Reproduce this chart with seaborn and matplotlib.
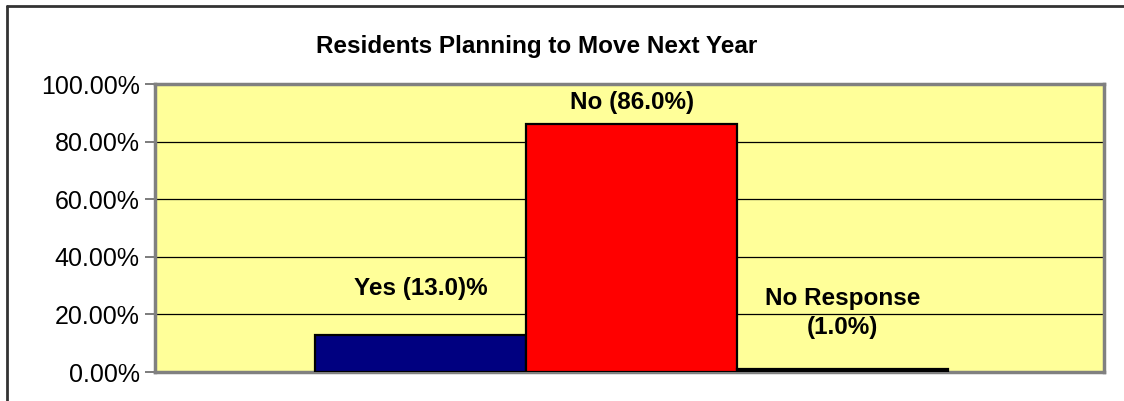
import matplotlib
matplotlib.use("Agg")
import matplotlib.pyplot as plt
import seaborn as sns
import pandas as pd
from matplotlib.lines import Line2D

# Survey responses
responses = ["Yes", "No", "No Response"]
shares = [13.0, 86.0, 1.0]
bar_labels = ["Yes (13.0)%", "No (86.0%)", "No Response\n(1.0%)"]
bar_colors = ["#000080", "#FF0000", "#000000"]
y_ticks = [0, 20, 40, 60, 80, 100]
y_tick_labels = ["0.00%", "20.00%", "40.00%", "60.00%", "80.00%", "100.00%"]
title = "Residents Planning to Move Next Year"

df = pd.DataFrame({"response": responses, "share": shares})

sns.set_style("white")
plt.rcParams["font.family"] = ["Liberation Sans", "DejaVu Sans"]
plt.rcParams["text.color"] = "black"
plt.rcParams["ytick.labelcolor"] = "black"

fig = plt.figure(figsize=(11.24, 4.01), dpi=100)
ax = fig.add_axes([0.1379, 0.0723, 0.8443, 0.7182])
ax.set_facecolor("#FFFF99")

sns.barplot(data=df, x="response", y="share", hue="response",
            palette=dict(zip(responses, bar_colors)), legend=False,
            width=1.0, edgecolor="black", linewidth=1.6, saturation=1,
            ax=ax, zorder=3)

ax.set_xlim(-1.26, 3.24)
ax.set_ylim(0, 100)
ax.set_yticks(y_ticks)
ax.set_yticklabels(y_tick_labels, fontsize=18, color="black")
ax.set_xticks([])
ax.set_xlabel("")
ax.set_ylabel("")
ax.tick_params(axis="y", length=7, width=1.2, color="#666666", pad=4, left=True)

# Horizontal gridlines
for t in y_ticks[1:]:
    ax.axhline(t, color="black", lw=0.9, zorder=1)

for side in ["left", "right", "top", "bottom"]:
    ax.spines[side].set_visible(True)
    ax.spines[side].set_color("#808080")
    ax.spines[side].set_linewidth(2.5)

# Value labels placed above each bar
label_offsets = [16.0, 7.5, 19.5]
for i, (lab, val, off) in enumerate(zip(bar_labels, shares, label_offsets)):
    ax.text(i, val + off, lab, ha="center", va="center", fontsize=17.5,
            fontweight="bold", linespacing=1.35, color="black", zorder=4)

fig.text(0.477, 0.883, title, ha="center", va="center",
         fontsize=17.5, fontweight="bold", color="black")

# Chart-area frame along the top and left edges
fig.add_artist(Line2D([0.0065, 1.0], [0.986, 0.986], transform=fig.transFigure,
                      color="#333333", lw=2))
fig.add_artist(Line2D([0.0065, 0.0065], [0.0, 0.986], transform=fig.transFigure,
                      color="#333333", lw=2))

fig.savefig("out.png", dpi=100)
